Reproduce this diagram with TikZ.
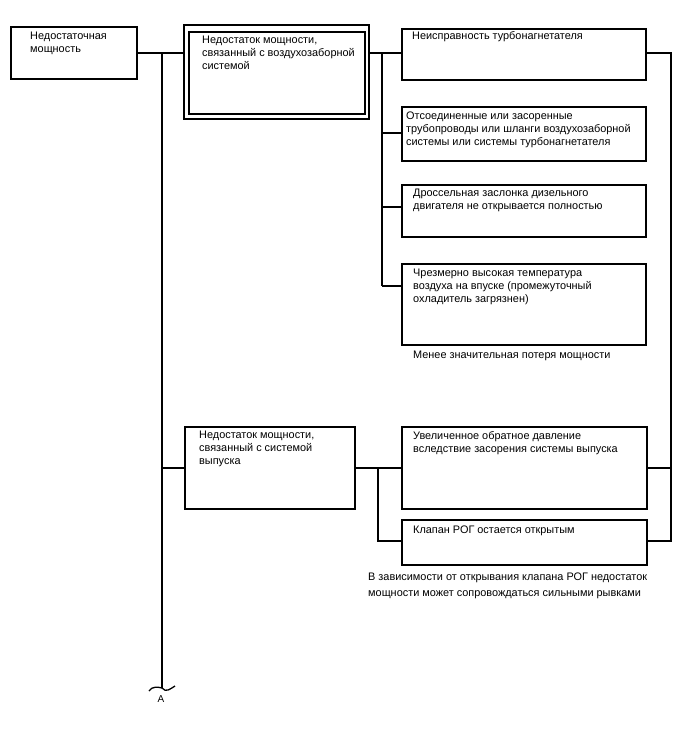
\documentclass[tikz,border=0pt]{standalone}
\usepackage{fontspec}
\setmainfont{Liberation Sans}
\usepackage{xcolor}
\usepackage{tikz}
\usetikzlibrary{positioning,calc}

\tikzset{
  faultbox/.style={draw, line width=1.3pt, inner sep=0pt, outer sep=0pt, anchor=north west},
  boxtext/.style={inner sep=0pt, anchor=north west, align=left, font=\fontsize{10.9}{13}\selectfont},
  wire/.style={line width=1.3pt}
}

\begin{document}
\begin{tikzpicture}[x=1pt, y=-1pt]
\useasboundingbox (0,0) rectangle (688,755);

% Boxes
\node[faultbox, minimum width=126, minimum height=52] (lack) at (11,27) {};
\node[faultbox, minimum width=185, minimum height=94] (airsys) at (184,25) {};
\node[faultbox, minimum width=176, minimum height=82] (airsysin) at (189,32) {};
\node[faultbox, minimum width=244, minimum height=51] (turbo) at (402,29) {};
\node[faultbox, minimum width=244, minimum height=54] (pipes) at (402,107) {};
\node[faultbox, minimum width=244, minimum height=52] (throttle) at (402,185) {};
\node[faultbox, minimum width=244, minimum height=81] (intake) at (402,264) {};
\node[faultbox, minimum width=170, minimum height=82] (exhaust) at (185,427) {};
\node[faultbox, minimum width=245, minimum height=82] (backpr) at (402,427) {};
\node[faultbox, minimum width=245, minimum height=45] (egr) at (402,520) {};

% Texts
\node[boxtext] (lack-t) at (30,32) {Недостаточная\\мощность};
\node[boxtext] (airsys-t) at (202,36) {Недостаток мощности,\\связанный с воздухозаборной\\системой};
\node[boxtext] (turbo-t) at (412,31) {Неисправность турбонагнетателя};
\node[boxtext] (pipes-t) at (406,112) {Отсоединенные или засоренные\\трубопроводы или шланги воздухозаборной\\системы или системы турбонагнетателя};
\node[boxtext] (throttle-t) at (413,189) {Дроссельная заслонка дизельного\\двигателя не открывается полностью};
\node[boxtext] (intake-t) at (413,269) {Чрезмерно высокая температура\\воздуха на впуске (промежуточный\\охладитель загрязнен)};
\node[boxtext] (note-air) at (413,351) {Менее значительная потеря мощности};
\node[boxtext] (exhaust-t) at (199,431) {Недостаток мощности,\\связанный с системой\\выпуска};
\node[boxtext] (backpr-t) at (413,431) {Увеличенное обратное давление\\вследствие засорения системы выпуска};
\node[boxtext] (egr-t) at (413,526) {Клапан РОГ остается открытым};
\node[boxtext, font=\fontsize{10.9}{16}\selectfont] (note-egr) at (368,573) {В зависимости от открывания клапана РОГ недостаток\\мощности может сопровождаться сильными рывками};

% Junctions
\coordinate (jmain) at (162,53);
\coordinate (jair) at (382,53);
\coordinate (jret) at (671,53);
\coordinate (jexh) at (378,468);
\coordinate (trunkend) at (162,688);

% Main line
\draw[wire] (lack.east) -- (lack.east -| airsys.west);
\draw[wire] (jmain) -- (trunkend);
\draw[wire] (jmain |- exhaust.west) -- (exhaust.west);
\draw[wire] (trunkend) ++(-13,3) .. controls +(3,-5) and +(-4,-1) .. (trunkend)
  .. controls +(4,5) and +(-5,3) .. ++(13,-2);
\node[font=\fontsize{10}{11}\selectfont, inner sep=0pt] (brkA) at (161,699) {A};

% Air system branch
\foreach \n/\d in {turbo/24, pipes/26, throttle/22, intake/22}
  \coordinate (\n-in) at ([yshift=-\d]\n.north west);
\draw[wire] (airsys.east |- turbo-in) -- (turbo-in);
\draw[wire] (jair) -- (jair |- intake-in);
\foreach \n in {pipes, throttle, intake}
  \draw[wire] (jair |- \n-in) -- (\n-in);

% Exhaust branch
\coordinate (egr-in) at ([yshift=-21]egr.north west);
\draw[wire] (exhaust.east) -- (backpr.west);
\draw[wire] (jexh) -- (jexh |- egr-in) -- (egr-in);

% Return line
\coordinate (turbo-out) at ([yshift=-24]turbo.north east);
\coordinate (egr-out) at ([yshift=-21]egr.north east);
\draw[wire] (turbo-out) -- (jret) -- (jret |- egr-out) -- (egr-out);
\draw[wire] (backpr.east) -- (jret |- backpr.east);
\end{tikzpicture}
\end{document}
